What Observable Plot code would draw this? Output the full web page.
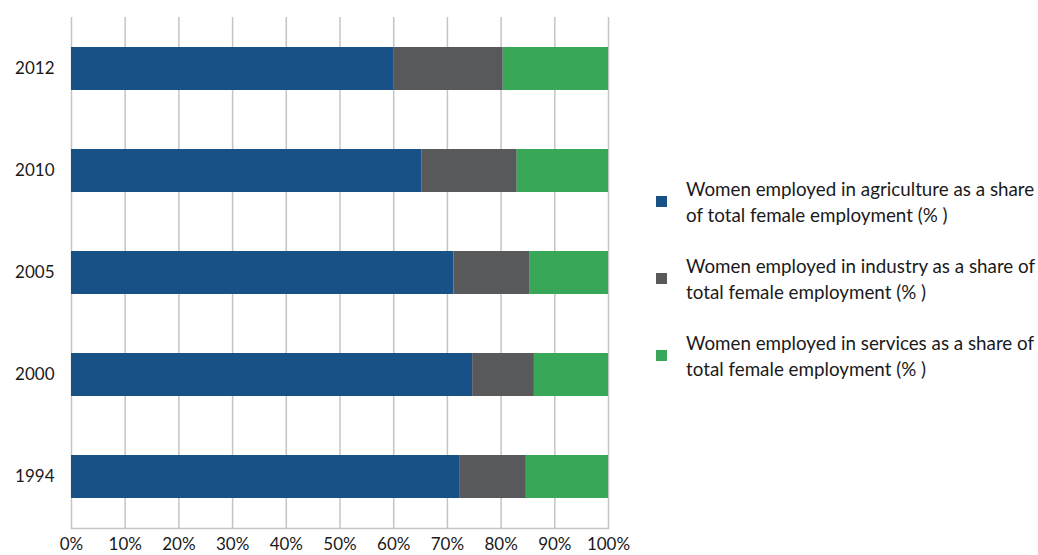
<!DOCTYPE html>
<html><head><meta charset="utf-8">
<script src="https://cdn.jsdelivr.net/npm/d3@7"></script>
<script src="https://cdn.jsdelivr.net/npm/@observablehq/plot@0.6"></script>
<style>
body{margin:0;background:#fff;font-family:Lato,"Open Sans",sans-serif;}
#wrap{position:relative;width:1038px;height:555px;overflow:hidden;}
#chart{position:absolute;left:0;top:0;}
#legend{position:absolute;left:656px;top:176px;color:#1a1a1a;font-size:18.8px;line-height:26px;white-space:nowrap;}
.item{position:relative;padding-left:30px;margin-bottom:25px;}
.sw{position:absolute;left:0;top:20px;width:11px;height:11px;}
</style>
</head><body>
<div id="wrap"><div id="chart"></div><div id="legend"></div></div>
<script>
const years = ["2012","2010","2005","2000","1994"];
const agriculture = [60.0, 65.3, 71.2, 74.7, 72.4];
const industry = [20.4, 17.7, 14.1, 11.5, 12.3];
const services = [19.6, 17.0, 14.7, 13.8, 15.3];
const seriesNames = [
  "Women employed in agriculture as a share of total female employment (% )",
  "Women employed in industry as a share of total female employment (% )",
  "Women employed in services as a share of total female employment (% )"
];
const legendLines = [
  ["Women employed in agriculture as a share", "of total female employment (% )"],
  ["Women employed in industry as a share of", "total female employment (% )"],
  ["Women employed in services as a share of", "total female employment (% )"]
];
const colors = ["#175186", "#58595b", "#38a758"];
const xTicks = [0,10,20,30,40,50,60,70,80,90,100];

const seriesValues = [agriculture, industry, services];
const data = [];
seriesNames.forEach((s, j) => years.forEach((y, i) => data.push({year: y, sector: s, value: seriesValues[j][i]})));

const chart = Plot.plot({
  width: 640, height: 555,
  marginLeft: 71, marginRight: 32, marginTop: 17, marginBottom: 27,
  style: {fontFamily: "Lato, 'Open Sans', sans-serif", fontSize: "17px", color: "#1a1a1a", background: "#fff"},
  x: {domain: [0, 100], ticks: xTicks, tickFormat: d => d + "%", tickSize: 0, tickPadding: 9, label: null},
  y: {domain: years, paddingInner: 0.58, paddingOuter: 0.29, tickSize: 0, tickPadding: 17, label: null},
  color: {domain: seriesNames, range: colors},
  marks: [
    Plot.ruleX(xTicks, {stroke: "#c4c4c4", strokeWidth: 1.5}),
    Plot.frame({anchor: "bottom", stroke: "#c4c4c4", strokeWidth: 1.5}),
    Plot.barX(data, Plot.stackX({x: "value", y: "year", fill: "sector"}))
  ]
});
document.getElementById("chart").appendChild(chart);

const leg = d3.select("#legend");
seriesNames.forEach((s, j) => {
  const it = leg.append("div").attr("class", "item");
  it.append("div").attr("class", "sw").style("background", colors[j]);
  it.append("div").html(legendLines[j].join("<br>"));
});
</script>
</body></html>
